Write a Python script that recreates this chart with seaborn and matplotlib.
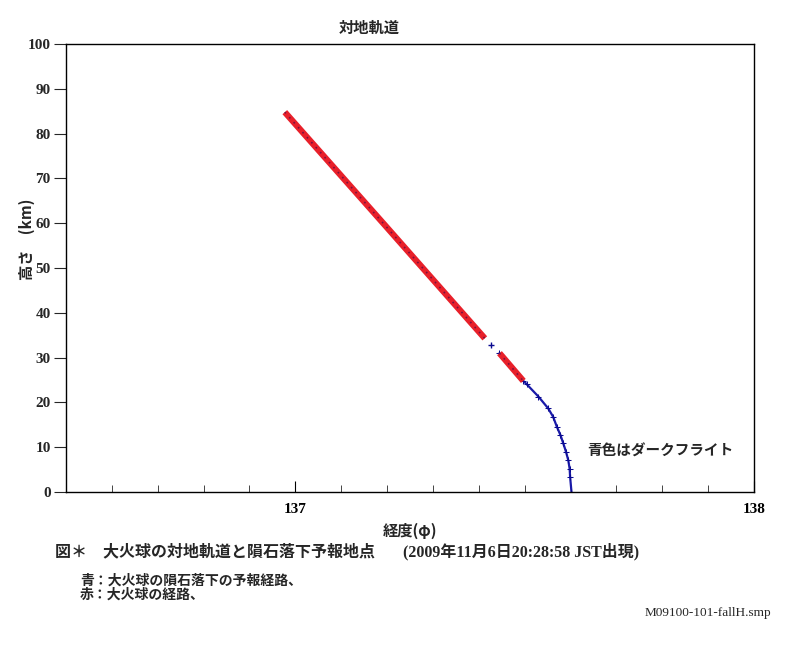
import numpy as np
import pandas as pd
import matplotlib
matplotlib.use("Agg")
import matplotlib.pyplot as plt
import seaborn as sns

# red: observed fireball path (two segments)
red1_lon = [136.977, 137.195, 137.413]
red1_alt = [84.8, 59.6, 34.3]
red2_lon = [137.445, 137.471, 137.497]
red2_alt = [31.0, 27.9, 24.8]

# blue: predicted dark flight
blue_lon = [137.427, 137.445, 137.471, 137.497, 137.504, 137.530, 137.551, 137.562,
            137.570, 137.578, 137.584, 137.590, 137.595, 137.598, 137.599, 137.602]
blue_alt = [32.8, 31.0, 27.9, 24.8, 24.1, 21.3, 18.7, 16.8,
            14.6, 12.7, 10.9, 9.0, 7.1, 5.2, 3.4, 0.0]

xticks = [137, 138]
yticks = list(range(0, 101, 10))

sns.set_style("ticks")
plt.rcParams["font.family"] = ["Liberation Serif", "Noto Sans CJK JP"]
jp = ["Noto Sans CJK JP", "DejaVu Sans"]

fig = plt.figure(figsize=(8.02, 6.48), dpi=100)
ax = fig.add_axes([0.0823, 0.2407, 0.8579, 0.6913])

df_blue = pd.DataFrame({"lon": blue_lon, "alt": blue_alt})
sns.lineplot(data=df_blue.iloc[1:], x="lon", y="alt", sort=False, color="#1a1aa8",
             lw=1.6, marker="+", markersize=4, markeredgecolor="#0b0b90", ax=ax)
ax.plot(blue_lon[0], blue_alt[0], marker="+", color="#0b0b90", ms=4)

for lon, alt in [(red1_lon, red1_alt), (red2_lon, red2_alt)]:
    d = pd.DataFrame({"lon": lon, "alt": alt})
    sns.lineplot(data=d, x="lon", y="alt", sort=False, color="#e8202a", lw=4.5,
                 solid_capstyle="butt", ax=ax)
    ax.plot(lon, alt, color="#7a1040", lw=1.2, ls=(0, (1, 3)))

ax.set_xlim(136.5, 138)
ax.set_ylim(0, 100)
ax.set_xticks(xticks)
ax.set_xticks(np.arange(136.6, 137.95, 0.1), minor=True)
ax.set_yticks(yticks)
for s in ax.spines.values():
    s.set_visible(True)
    s.set_linewidth(1.0)
    s.set_color("black")
ax.tick_params(axis="x", which="major", direction="in", length=8, pad=8,
               labelsize=11, colors="black")
ax.tick_params(axis="x", which="minor", direction="in", length=5)
ax.tick_params(axis="y", direction="out", length=9, pad=2, labelsize=11)
for lab in ax.get_xticklabels() + ax.get_yticklabels():
    lab.set_fontweight("bold")

ax.set_xlabel("経度(φ)", family=jp, fontsize=11, fontweight="bold", labelpad=5)
ax.set_ylabel("高さ　(km)", family=jp, fontsize=11, fontweight="bold")
ax.yaxis.set_label_coords(-0.045, 0.565)
ax.set_title("対地軌道", family=jp, fontsize=11, fontweight="bold", pad=8,
             loc="center", x=0.441)

ax.text(137.636, 9.2, "青色はダークフライト", family=jp, fontsize=10.5,
        fontweight="bold", va="center", ha="left")

fig.text(0.069, 0.149, "図＊　大火球の対地軌道と隕石落下予報地点",
         family=jp, fontsize=11.5, fontweight="bold", va="center")
fig.text(0.502, 0.149, "(2009年11月6日20:28:58 JST出現)",
         family=["Liberation Serif", "Noto Sans CJK JP"], fontsize=11.5,
         fontweight="bold", va="center")
fig.text(0.1, 0.104, "青：大火球の隕石落下の予報経路、", family=jp, fontsize=10,
         fontweight="bold", va="center")
fig.text(0.1, 0.083, "赤：大火球の経路、", family=jp, fontsize=10,
         fontweight="bold", va="center")
fig.text(0.962, 0.054, "M09100-101-fallH.smp", family="Liberation Serif",
         fontsize=9.5, ha="right", va="center")

fig.savefig("out.png", dpi=100, facecolor="white")
